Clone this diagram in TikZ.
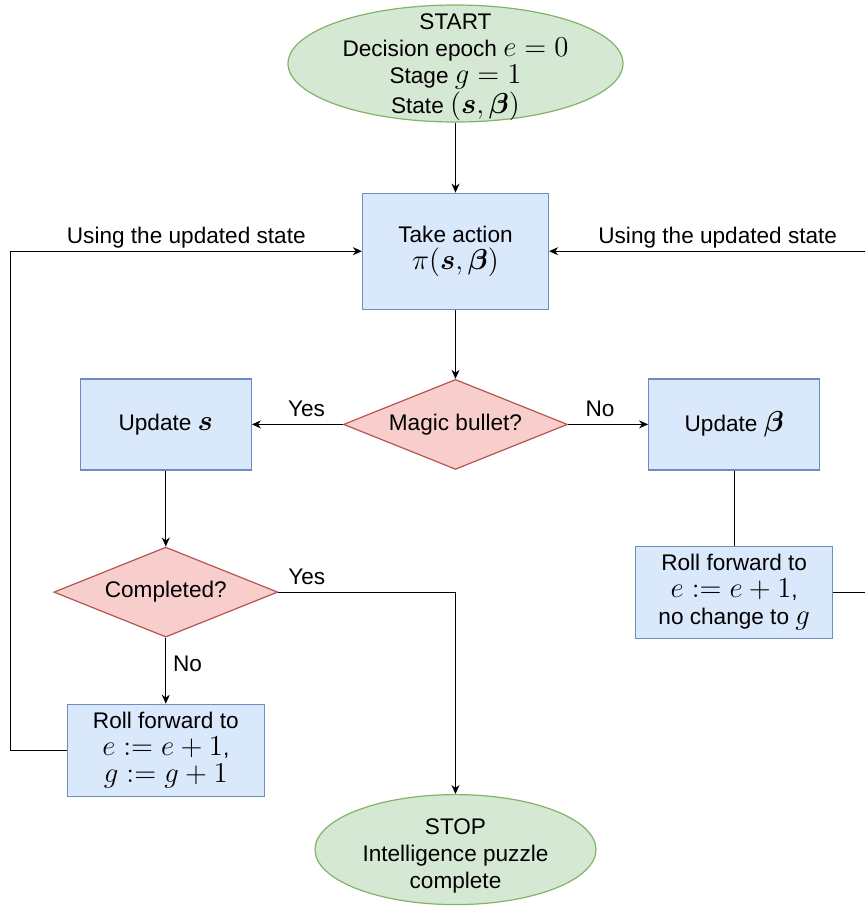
\documentclass[tikz,border=0pt]{standalone}
\usepackage{amsmath, amssymb}
\usepackage{fontspec}
\setmainfont{Liberation Sans}
\usepackage{tikz}
\usetikzlibrary{shapes.geometric, arrows.meta, positioning}

\definecolor{termfill}{HTML}{D5E8D4}
\definecolor{termdraw}{HTML}{82B366}
\definecolor{procfill}{HTML}{DAE8FC}
\definecolor{procdraw}{HTML}{6C8EBF}
\definecolor{decfill}{HTML}{F8CECC}
\definecolor{decdraw}{HTML}{B85450}

% math a little larger than the text, as in the drawing
\newcommand{\mth}[1]{{\fontsize{13.3}{13.5}\selectfont$#1$}}

\begin{document}
\begin{tikzpicture}[
    font=\fontsize{11.3}{13.5}\selectfont,
    terminal/.style={ellipse, draw=termdraw, fill=termfill, line width=0.6pt,
                     align=center, inner xsep=0pt, inner ysep=-8pt,
                     minimum width=167.5pt, minimum height=58.5pt},
    process/.style={draw=procdraw, fill=procfill, line width=0.6pt, align=center,
                    inner sep=1pt, minimum width=85.5pt, minimum height=45.5pt},
    decision/.style={diamond, aspect=2.5, draw=decdraw, fill=decfill, line width=0.6pt,
                     inner sep=0pt, minimum width=112pt, minimum height=45pt},
    arr/.style={-{Stealth[length=4.5pt, width=4pt]}, line width=0.6pt},
    plain/.style={line width=0.6pt},
]
    \clip (-227.75pt,31.75pt) rectangle (204.75pt,-421.75pt);

    % Nodes
    \node[terminal] (start) {\rule{0pt}{11.5pt}START\\Decision epoch \mth{e=0}\\Stage \mth{g=1}\\State \mth{(\boldsymbol{s},\boldsymbol{\beta})}};
    \node[process, minimum width=93pt, minimum height=58pt, below=35pt of start] (action) {Take action\\\mth{\pi(\boldsymbol{s},\boldsymbol{\beta})}};
    \node[decision, below=34.5pt of action] (magic) {Magic bullet?};
    \node[process, left=45.5pt of magic] (upds) {Update \mth{\boldsymbol{s}}};
    \node[process, right=40pt of magic] (updb) {Update \mth{\boldsymbol{\beta}}};
    \node[decision, below=38pt of upds] (done) {Completed?};
    \node[process, minimum width=98.5pt, minimum height=46pt, below=33pt of done] (rollg) {Roll forward to\\\mth{e:=e+1},\\\mth{g:=g+1}};
    \node[process, minimum width=98.5pt, minimum height=46pt, below=37.5pt of updb] (rolle) {Roll forward to\\\mth{e:=e+1},\\no change to \mth{g}};
    \node[terminal, minimum width=140.5pt, minimum height=55pt, below=162pt of magic] (stop) {\rule{0pt}{14pt}STOP\\Intelligence puzzle\\complete};
    \coordinate[left=28pt of rollg.west] (lbend);
    \coordinate[right=17pt of rolle.east] (rbend);

    % Arrows
    \draw[arr] (start) -- (action);
    \draw[arr] (action) -- (magic);
    \draw[arr] (magic) -- node[above, pos=0.4] {Yes} (upds);
    \draw[arr] (magic) -- node[above, pos=0.4] {No} (updb);
    \draw[arr] (upds) -- (done);
    \draw[arr] (done) -- node[right, pos=0.4] {No} (rollg);
    \draw[arr] (done.east) -| node[above, pos=0.08] {Yes} (stop.north);
    \draw[plain] (updb) -- (rolle);
    \draw[arr] (rollg.west) -- (lbend) |- node[above=-2pt, pos=0.75] {Using the updated state} (action.west);
    \draw[arr] (rolle.east) -- (rbend) |- node[above=-2pt, pos=0.735] {Using the updated state} (action.east);
\end{tikzpicture}
\end{document}
